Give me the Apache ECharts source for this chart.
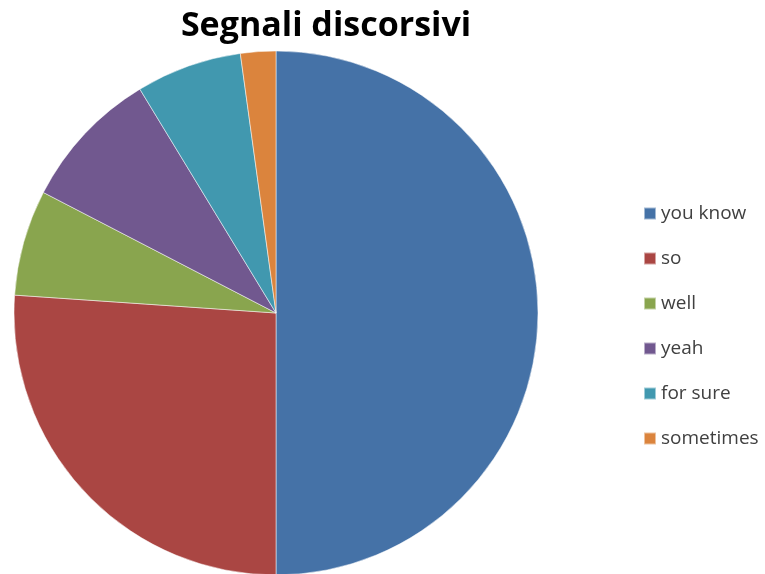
<!DOCTYPE html>
<html><head><meta charset="utf-8">
<script src="https://cdn.jsdelivr.net/npm/echarts@6/dist/echarts.min.js"></script>
<style>html,body{margin:0;padding:0;background:#fff}#c{width:765px;height:574px}</style>
</head><body><div id="c"></div>
<script>
const categories = ["you know", "so", "well", "yeah", "for sure", "sometimes"];
const values = [23, 12, 3, 4, 3, 1];
const colors = ["#4572A7", "#AA4643", "#89A54E", "#71588F", "#4198AF", "#DB843D"];
const title = "Segnali discorsivi";

const chart = echarts.init(document.getElementById('c'), null, {renderer: 'canvas'});
chart.setOption({
  animation: false,
  color: colors,
  title: {
    text: title, left: 321, top: 4, textAlign: 'center',
    textStyle: {fontFamily: 'Open Sans', fontWeight: 'bold', fontSize: 34, color: '#000'}
  },
  legend: {
    orient: 'vertical', left: 638, top: 199,
    itemWidth: 12, itemHeight: 12, itemGap: 26,
    icon: 'rect',
    textStyle: {fontFamily: 'Open Sans', fontSize: 19, color: '#404040'},
    data: categories
  },
  series: [{
    type: 'pie',
    center: [276, 313],
    radius: 262,
    startAngle: 90,
    clockwise: true,
    label: {show: false},
    labelLine: {show: false},
    emphasis: {disabled: true},
    itemStyle: {borderColor: 'rgba(255,255,255,0.5)', borderWidth: 1},
    data: categories.map((n, i) => ({name: n, value: values[i]}))
  }]
});
</script></body></html>
